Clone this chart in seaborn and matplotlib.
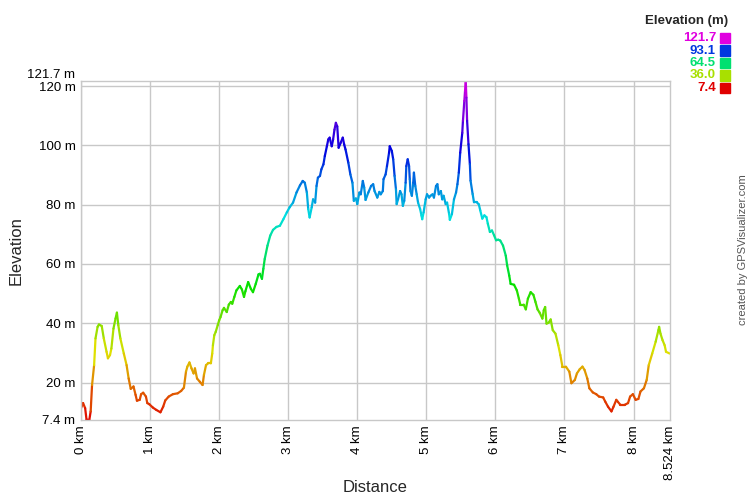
import colorsys

import matplotlib.pyplot as plt
import numpy as np
import pandas as pd
import seaborn as sns
from matplotlib.patches import Rectangle

# elevation profile (km, m)
distance_km = [
    0.00, 0.03, 0.06, 0.08, 0.12, 0.14, 0.16, 0.19, 0.21, 0.24, 0.26, 0.30, 0.33, 0.37, 0.39, 0.42,
    0.44, 0.47, 0.50, 0.52, 0.54, 0.57, 0.62, 0.66, 0.69, 0.72, 0.76, 0.79, 0.81, 0.85, 0.87, 0.90,
    0.94, 0.96, 0.99, 1.04, 1.09, 1.15, 1.19, 1.22, 1.27, 1.33, 1.40, 1.45, 1.49, 1.52, 1.54, 1.57,
    1.60, 1.63, 1.65, 1.68, 1.72, 1.76, 1.78, 1.81, 1.84, 1.88, 1.90, 1.91, 1.93, 1.95, 1.98, 2.00,
    2.02, 2.05, 2.07, 2.11, 2.14, 2.17, 2.19, 2.22, 2.25, 2.30, 2.33, 2.36, 2.38, 2.42, 2.46, 2.49,
    2.53, 2.57, 2.59, 2.62, 2.64, 2.66, 2.70, 2.74, 2.78, 2.83, 2.88, 2.93, 2.98, 3.02, 3.07, 3.12,
    3.17, 3.21, 3.24, 3.27, 3.29, 3.31, 3.34, 3.36, 3.39, 3.41, 3.43, 3.46, 3.48, 3.51, 3.53, 3.56,
    3.58, 3.60, 3.63, 3.65, 3.67, 3.69, 3.71, 3.73, 3.76, 3.79, 3.81, 3.83, 3.87, 3.90, 3.93, 3.95,
    3.98, 4.00, 4.03, 4.05, 4.08, 4.10, 4.12, 4.16, 4.20, 4.23, 4.25, 4.29, 4.32, 4.34, 4.37, 4.38,
    4.41, 4.43, 4.46, 4.47, 4.50, 4.52, 4.54, 4.56, 4.57, 4.59, 4.62, 4.64, 4.66, 4.68, 4.70, 4.71,
    4.73, 4.75, 4.76, 4.77, 4.79, 4.81, 4.82, 4.84, 4.86, 4.88, 4.91, 4.93, 4.94, 4.96, 4.99, 5.01,
    5.04, 5.06, 5.09, 5.11, 5.14, 5.16, 5.18, 5.21, 5.23, 5.25, 5.28, 5.30, 5.33, 5.34, 5.37, 5.40,
    5.43, 5.45, 5.47, 5.49, 5.52, 5.53, 5.55, 5.56, 5.57, 5.58, 5.59, 5.61, 5.63, 5.64, 5.67, 5.69,
    5.73, 5.76, 5.78, 5.81, 5.84, 5.87, 5.89, 5.92, 5.95, 5.98, 6.01, 6.04, 6.07, 6.11, 6.15, 6.17,
    6.20, 6.22, 6.27, 6.31, 6.34, 6.36, 6.41, 6.44, 6.47, 6.51, 6.55, 6.58, 6.61, 6.64, 6.68, 6.70,
    6.72, 6.74, 6.77, 6.80, 6.83, 6.87, 6.91, 6.94, 6.97, 7.02, 7.07, 7.10, 7.15, 7.18, 7.22, 7.26,
    7.29, 7.33, 7.36, 7.41, 7.46, 7.50, 7.56, 7.59, 7.63, 7.68, 7.71, 7.75, 7.77, 7.81, 7.87, 7.92,
    7.95, 7.99, 8.03, 8.07, 8.10, 8.15, 8.19, 8.22, 8.27, 8.32, 8.36, 8.37, 8.39, 8.42, 8.45, 8.47,
    8.524,
]
elevation_m = [
    11.4, 13.1, 11.4, 7.5, 7.4, 10.3, 19.2, 25.9, 34.9, 38.8, 39.6, 39.1, 34.9, 30.4, 28.2, 29.3,
    31.5, 38.2, 41.6, 43.6, 39.4, 34.9, 29.8, 25.9, 21.4, 17.9, 18.7, 15.9, 13.9, 14.2, 16.1, 16.6,
    15.3, 13.1, 12.7, 11.6, 10.8, 10.0, 11.9, 14.0, 15.3, 16.1, 16.4, 17.2, 18.3, 23.7, 25.4, 26.8,
    24.8, 23.1, 24.8, 21.4, 20.3, 19.2, 22.6, 25.9, 26.5, 26.5, 29.8, 32.6, 36.0, 37.1, 39.4, 41.0,
    42.1, 44.4, 45.2, 43.8, 46.3, 47.2, 46.6, 48.9, 51.1, 52.6, 51.4, 48.9, 50.8, 53.9, 51.6, 50.5,
    53.3, 56.5, 56.7, 55.0, 58.4, 61.7, 66.2, 69.6, 71.5, 72.5, 72.9, 75.1, 77.4, 79.1, 80.7, 84.1,
    86.5, 88.0, 87.4, 84.1, 78.5, 75.7, 79.1, 81.8, 80.7, 86.3, 89.1, 89.7, 91.9, 93.6, 96.4, 99.7,
    102.0, 102.6, 99.7, 102.0, 105.3, 107.6, 106.4, 99.2, 100.9, 102.6, 100.3, 98.6, 94.2, 90.2, 87.4, 81.3,
    82.1, 80.2, 84.1, 83.5, 88.0, 85.8, 81.6, 84.1, 86.3, 86.9, 84.6, 82.4, 84.3, 83.5, 84.6, 88.6,
    90.2, 93.0, 97.5, 99.7, 98.1, 95.3, 89.7, 85.2, 80.2, 81.8, 84.6, 83.5, 79.6, 81.3, 87.4, 93.0,
    95.3, 93.0, 88.6, 84.6, 83.0, 87.4, 90.8, 86.3, 83.5, 80.7, 78.5, 76.3, 75.1, 77.4, 81.8, 83.5,
    82.4, 83.0, 83.5, 82.4, 86.3, 86.9, 83.5, 84.6, 81.8, 83.0, 80.2, 80.7, 76.8, 74.9, 76.8, 81.8,
    84.1, 86.9, 90.8, 97.5, 104.2, 108.3, 115.0, 118.3, 121.7, 116.1, 108.3, 100.4, 93.7, 88.1, 83.6, 80.8,
    80.8, 80.1, 78.1, 75.3, 76.4, 75.8, 73.6, 70.8, 71.3, 69.7, 68.0, 68.2, 67.9, 66.2, 62.8, 59.5,
    56.1, 53.3, 53.0, 51.1, 48.3, 46.3, 46.3, 44.7, 48.3, 50.5, 49.6, 47.2, 44.7, 43.6, 41.6, 44.4,
    45.5, 39.9, 40.2, 41.3, 37.7, 36.5, 32.6, 29.3, 25.4, 25.4, 23.7, 19.8, 20.9, 23.1, 24.5, 25.4,
    24.3, 21.4, 18.1, 16.7, 16.1, 15.3, 15.0, 13.6, 11.9, 10.3, 11.9, 14.2, 13.6, 12.5, 12.5, 13.1,
    15.3, 16.1, 14.2, 14.5, 17.0, 18.1, 20.9, 25.9, 29.8, 33.8, 37.7, 38.8, 36.5, 34.3, 32.6, 30.4,
    29.8,
]

km_ticks = [0, 1, 2, 3, 4, 5, 6, 7, 8]
m_ticks = [20, 40, 60, 80, 100, 120]
legend_values = [121.7, 93.1, 64.5, 36.0, 7.4]

e_min, e_max = min(elevation_m), max(elevation_m)
d_max = distance_km[-1]


def elev_color(v):
    # red -> yellow -> green -> cyan -> blue -> magenta
    h = (v - e_min) / (e_max - e_min) * 300 / 360
    return colorsys.hsv_to_rgb(h, 1.0, 0.88)


# one group per segment so every piece gets its own colour
rows = []
palette = {}
for i in range(len(distance_km) - 1):
    rows.append((i, distance_km[i], elevation_m[i]))
    rows.append((i, distance_km[i + 1], elevation_m[i + 1]))
    palette[i] = elev_color((elevation_m[i] + elevation_m[i + 1]) / 2)
df = pd.DataFrame(rows, columns=['seg', 'km', 'm'])

sns.set_theme(style='white')
plt.rcParams['font.family'] = ['Liberation Sans', 'DejaVu Sans']

fig = plt.figure(figsize=(7.5, 5), dpi=100)
ax = fig.add_axes([0.108, 0.16, 0.785, 0.678])

grid_c = '#c8c8c8'
for k in km_ticks:
    ax.axvline(k, color=grid_c, lw=1, zorder=0)
for m in m_ticks:
    ax.axhline(m, color=grid_c, lw=1, zorder=0)

sns.lineplot(data=df, x='km', y='m', hue='seg', palette=palette, legend=False,
             estimator=None, sort=False, lw=1.6, ax=ax)

ax.set_xlim(0, d_max)
ax.set_ylim(e_min, e_max)
for s in ax.spines.values():
    s.set_color(grid_c)
    s.set_linewidth(1)

ax.set_xticks(km_ticks + [d_max])
ax.set_xticklabels([f'{k} km' for k in km_ticks] + [f'{d_max} km'], rotation=90, va='top')
ax.set_yticks([e_min] + m_ticks + [e_max])
ylabels = ax.set_yticklabels([f'{e_min} m'] + [f'{m} m' for m in m_ticks] + [f'{e_max} m'])
ylabels[-1].set_va('bottom')
ax.tick_params(axis='both', length=0, labelsize=9.5, colors='black', pad=4)

ax.set_xlabel('Distance', fontsize=12)
ax.set_ylabel('Elevation', fontsize=12)
ax.xaxis.set_label_coords(0.5, -0.178)
ax.yaxis.set_label_coords(-0.098, 0.5)

# colour key in the upper right
fig.text(728 / 750, 1 - 21 / 500, 'Elevation (m)', ha='right', va='center',
         fontsize=9.5, fontweight='bold')
for i, v in enumerate(legend_values):
    y = 1 - (38 + i * 12.5) / 500
    c = elev_color(v)
    fig.text(716 / 750, y, f'{v:.1f}', ha='right', va='center', fontsize=9.5,
             fontweight='bold', color=c)
    fig.patches.append(Rectangle((720 / 750, y - 5 / 500), 10 / 750, 10 / 500,
                                 transform=fig.transFigure, color=c))

fig.text(743 / 750, 1 - 250 / 500, 'created by GPSVisualizer.com', rotation=90,
         ha='center', va='center', fontsize=8, color='#555555')

fig.savefig('out.png', dpi=100)
